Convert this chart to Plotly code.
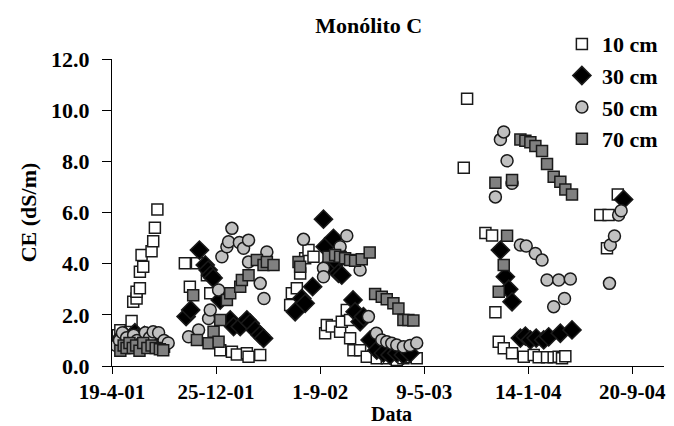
import pandas as pd
import plotly.graph_objects as go

# Dates are stored as days after 19-4-01 (first tick), values in dS/m
BASE_DATE = "2001-04-19"

days_10 = [8, 14, 20, 26, 30, 33, 40, 47, 51, 59, 59, 60, 67, 67, 71, 75, 85, 95, 99, 103, 109, 115, 125,
           175, 187, 204, 228, 236, 260, 288, 300, 324, 328, 356,
           428, 432, 444, 452, 464, 472, 484, 512, 516, 528, 548, 552, 564, 572, 572, 580, 596, 612, 636, 660,
           684, 700, 716, 732,
           845, 853, 897, 913, 921, 929, 941, 961, 989, 1013, 1025, 1045, 1061, 1073, 1081, 1089,
           1173, 1189, 1193, 1215]
ce_10 = [0.9, 1.2, 1.4, 1.0, 0.7, 0.8, 0.9, 1.76, 2.51, 2.64, 2.90, 0.8, 3.04, 3.68, 4.34, 3.88, 0.9, 4.49, 4.88,
         5.40, 6.12, 0.8, 0.75,
         4.02, 3.10, 4.02, 3.55, 2.84, 0.62, 0.56, 0.45, 0.5, 0.36, 0.43,
         2.38, 2.84, 3.04, 3.62, 4.21, 4.53, 4.27, 1.28, 1.60, 1.54, 1.34, 1.73, 2.19, 1.80, 1.08, 0.62, 0.62,
         0.36, 0.30, 0.30, 0.23, 0.30, 0.35, 0.30,
         7.75, 10.45, 5.2, 5.1, 2.10, 0.95, 0.69, 0.5, 0.36, 0.43, 0.34, 0.34, 0.34, 0.36, 0.3, 0.38,
         5.9, 4.6, 5.9, 6.7]

days_30 = [15, 22, 30, 38, 45, 55, 62, 70, 78, 88, 98, 108,
           178, 189, 210, 224, 231, 237, 243, 260, 284, 292, 308, 324, 332, 344, 356, 364,
           440, 456, 464, 482, 508, 512, 520, 532, 540, 544, 548, 552, 579, 584, 596, 604, 620, 636, 652, 668,
           684, 700, 716,
           933, 945, 953, 961, 981, 993, 1005, 1019, 1037, 1049, 1077, 1105,
           1229]
ce_30 = [0.9, 1.1, 1.2, 0.9, 1.0, 1.3, 1.1, 1.0, 1.2, 0.9, 1.1, 1.0,
         1.93, 2.19, 4.53, 3.95, 3.75, 3.55, 3.44, 2.58, 1.8, 1.54, 1.54, 1.8, 1.67, 1.41, 1.21, 1.08,
         2.12, 2.64, 2.45, 3.10, 5.74, 4.66, 3.95, 4.99, 4.07, 3.62, 4.34, 3.55, 2.58, 2.12, 1.73, 1.93, 1.02,
         0.62, 0.5, 0.43, 0.5, 0.43, 0.5,
         4.53, 3.49, 3.0, 2.51, 1.09, 1.17, 1.02, 1.09, 1.02, 1.14, 1.28, 1.41,
         6.51]

days_50 = [10, 18, 25, 35, 45, 52, 60, 70, 80, 90, 99, 112, 125, 135,
           184, 208, 232, 236, 256, 264, 276, 280, 288, 306, 316, 328, 328, 356, 365, 372,
           460, 508, 508, 548, 564, 596, 616, 635, 648, 660, 672, 684, 700, 716, 732,
           921, 933, 941, 949, 961, 981, 995, 1017, 1033, 1045, 1061, 1073, 1087, 1101,
           1195, 1197, 1207, 1217, 1223]
ce_50 = [0.8, 1.0, 1.3, 1.1, 0.9, 1.2, 1.0, 0.9, 1.3, 1.1, 1.34, 1.3, 1.0, 0.9,
         1.14, 1.41, 1.86, 2.19, 2.97, 4.27, 4.66, 4.86, 5.38, 4.83, 4.60, 4.92, 4.07, 3.23, 2.64, 4.46,
         4.95, 3.82, 3.49, 4.66, 5.09, 3.75, 1.93, 1.28, 1.02, 0.95, 0.89, 0.82, 0.75, 0.8, 0.9,
         6.61, 8.85, 9.15, 8.02, 7.14, 4.73, 4.69, 4.40, 4.14, 3.36, 2.32, 3.36, 2.64, 3.40,
         3.23, 4.73, 5.08, 5.90, 6.07]

days_70 = [20, 28, 35, 42, 50, 58, 66, 75, 85, 95, 105, 115, 123,
           195, 204, 232, 244, 256, 260, 276, 284, 308, 312, 328, 348, 364, 372, 388,
           448, 452, 520, 536, 548, 560, 572, 584, 600, 619, 632, 648, 660, 676, 688, 700, 712, 724,
           921, 929, 941, 949, 961, 981, 993, 1005, 1017, 1033, 1045, 1061, 1077, 1089, 1105]
ce_70 = [0.6, 0.8, 0.7, 0.9, 0.7, 0.8, 0.6, 0.9, 0.7, 0.8, 0.7, 0.65, 0.62,
         2.77, 1.02, 0.89, 1.34, 0.95, 1.80, 2.58, 2.84, 3.10, 3.36, 3.55, 4.14, 3.95, 4.07, 3.95,
         4.07, 3.88, 4.27, 4.34, 4.27, 4.21, 4.14, 4.11, 4.17, 4.44, 2.81, 2.71, 2.61, 2.45, 2.25, 1.80, 1.80,
         1.78,
         7.16, 2.90, 3.95, 5.09, 7.27, 8.85, 8.8, 8.75, 8.6, 8.4, 7.9, 7.4, 7.2, 6.9, 6.7]

series_names = ["10 cm", "30 cm", "50 cm", "70 cm"]
tick_dates = ["2001-04-19", "2001-12-25", "2002-09-01", "2003-05-09", "2004-01-14", "2004-09-20"]
tick_labels = ["19-4-01", "25-12-01", "1-9-02", "9-5-03", "14-1-04", "20-9-04"]
y_ticks = [0, 2, 4, 6, 8, 10, 12]

FONT = "Liberation Serif, Times New Roman, Times, serif"


def to_dates(days):
    return pd.Timestamp(BASE_DATE) + pd.to_timedelta(days, unit="D")


styles = [
    dict(symbol="square", size=11, color="white"),
    dict(symbol="diamond", size=14, color="black"),
    dict(symbol="circle", size=12, color="#c0c0c0"),
    dict(symbol="square", size=11, color="#808080"),
]
data = [(days_10, ce_10), (days_30, ce_30), (days_50, ce_50), (days_70, ce_70)]

fig = go.Figure()
for name, (d, v), st in zip(series_names, data, styles):
    fig.add_trace(go.Scatter(
        x=to_dates(d), y=v, mode="markers", name=name,
        marker=dict(symbol=st["symbol"], size=st["size"], color=st["color"],
                    line=dict(color="#1a1a1a", width=1.5)),
    ))

fig.update_layout(
    width=674, height=426,
    margin=dict(l=112, r=10, t=59, b=60, pad=0, autoexpand=False),
    paper_bgcolor="white", plot_bgcolor="white",
    font=dict(family=FONT, size=22, color="black", weight="bold"),
    title=dict(text="<b>Monólito C</b>", xref="container", yref="container", x=0.547, y=0.941,
               xanchor="center", yanchor="middle", font=dict(family=FONT, size=22, weight="bold")),
    legend=dict(x=0.815, y=1.117, xanchor="left", yanchor="top", bgcolor="rgba(0,0,0,0)",
                font=dict(family=FONT, size=22, weight="bold"), itemwidth=30, tracegroupgap=0),
    showlegend=True,
    annotations=[dict(text="Data", xref="paper", yref="paper", x=0.507, y=-0.196,
                      xanchor="center", yanchor="bottom", showarrow=False, borderpad=0,
                      font=dict(family=FONT, size=20, weight="bold"))],
)
fig.update_xaxes(
    range=[pd.Timestamp("2001-04-19"), pd.Timestamp("2004-12-05")],
    tickmode="array", tickvals=tick_dates, ticktext=tick_labels, automargin=False,
    tickfont=dict(family=FONT, size=21, weight="bold"),
    showline=True, linecolor="black", linewidth=1, showgrid=False, zeroline=False,
    ticks="outside", ticklen=7, tickcolor="black", ticklabelstandoff=0,
)
fig.update_yaxes(
    range=[0, 12], tickmode="array", tickvals=y_ticks, tickformat=".1f", automargin=False,
    tickfont=dict(family=FONT, size=22, weight="bold"),
    showline=True, linecolor="black", linewidth=1, showgrid=False, zeroline=False,
    ticks="outside", ticklen=9, tickcolor="black", ticklabelstandoff=8,
    title=dict(text="CE (dS/m)", standoff=8, font=dict(family=FONT, size=22, weight="bold")),
)

fig.write_html("out.html")
